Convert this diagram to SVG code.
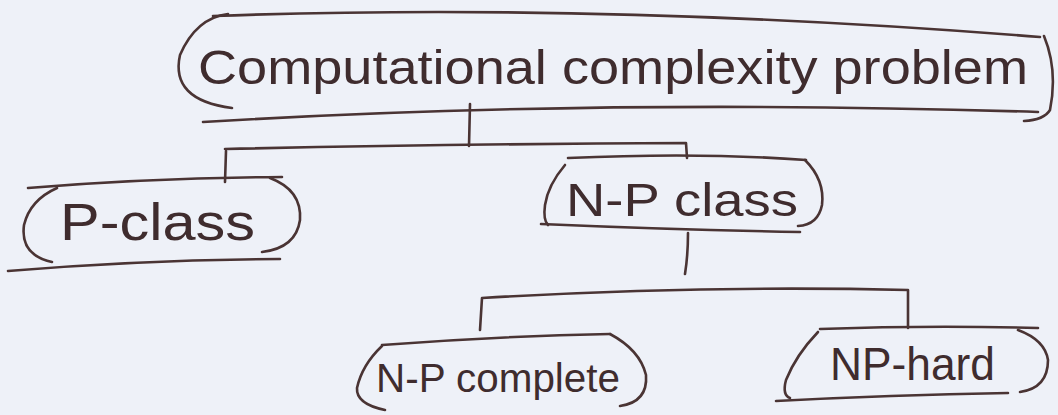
<svg xmlns="http://www.w3.org/2000/svg" width="1058" height="415" viewBox="0 0 1058 415">
<style>
.ink{fill:none;stroke:#4a3434;stroke-width:2.6;stroke-linecap:round;stroke-linejoin:round}
.lbl{font-family:"Liberation Sans",Arial,sans-serif;fill:#3f2c2e}
</style>
<rect width="1058" height="415" fill="#eef1f8"/>
<g id="connectors">
<path class="ink" d="M470 104 L469 146"/>
<path class="ink" d="M225 149 Q450 144 686 143 L687 158"/>
<path class="ink" d="M226 151 L225 182"/>
<path class="ink" d="M688 233 Q688 255 685 274"/>
<path class="ink" d="M480 330 L482 298 Q700 285 908 290 L908 328"/>
</g>
<g id="root">
<path class="ink" d="M213 16 Q600 2 1040 37"/>
<path class="ink" d="M228 14 Q196 18 180 55 Q170 100 232 108"/>
<path class="ink" d="M203 122 Q600 98 1038 112"/>
<path class="ink" d="M1044 36 Q1058 70 1050 110 Q1044 120 1024 121"/>
<text class="lbl" x="198" y="84" font-size="48" textLength="830" lengthAdjust="spacingAndGlyphs">Computational complexity problem</text>
</g>
<g id="p-class">
<path class="ink" d="M28 188 Q150 178 282 177"/>
<path class="ink" d="M57 188 Q30 200 24 225 Q20 255 52 262"/>
<path class="ink" d="M8 271 Q140 260 280 259"/>
<path class="ink" d="M270 178 Q302 190 300 220 Q296 248 262 252"/>
<text class="lbl" x="60" y="240" font-size="52" textLength="195" lengthAdjust="spacingAndGlyphs">P-class</text>
</g>
<g id="np-class">
<path class="ink" d="M568 158 Q700 152 806 160"/>
<path class="ink" d="M565 165 Q548 185 545 205 Q543 220 548 225"/>
<path class="ink" d="M541 224 Q680 230 800 232"/>
<path class="ink" d="M805 160 Q825 180 822 205 Q818 225 798 226"/>
<text class="lbl" x="566" y="216" font-size="46" textLength="232" lengthAdjust="spacingAndGlyphs">N-P class</text>
</g>
<g id="np-complete">
<path class="ink" d="M382 345 Q500 336 610 334"/>
<path class="ink" d="M382 346 Q362 365 357 388 Q356 404 385 410"/>
<path class="ink" d="M610 334 Q640 350 646 375 Q648 402 620 406"/>
<text class="lbl" x="376" y="392" font-size="40" textLength="244" lengthAdjust="spacingAndGlyphs">N-P complete</text>
</g>
<g id="np-hard">
<path class="ink" d="M820 329 Q930 325 1038 328"/>
<path class="ink" d="M818 332 Q796 355 786 380 Q782 395 790 398"/>
<path class="ink" d="M776 401 Q890 395 1008 393"/>
<path class="ink" d="M1018 330 Q1045 340 1048 360 Q1048 388 1020 392"/>
<text class="lbl" x="830" y="380" font-size="46" textLength="165" lengthAdjust="spacingAndGlyphs">NP-hard</text>
</g>
</svg>
